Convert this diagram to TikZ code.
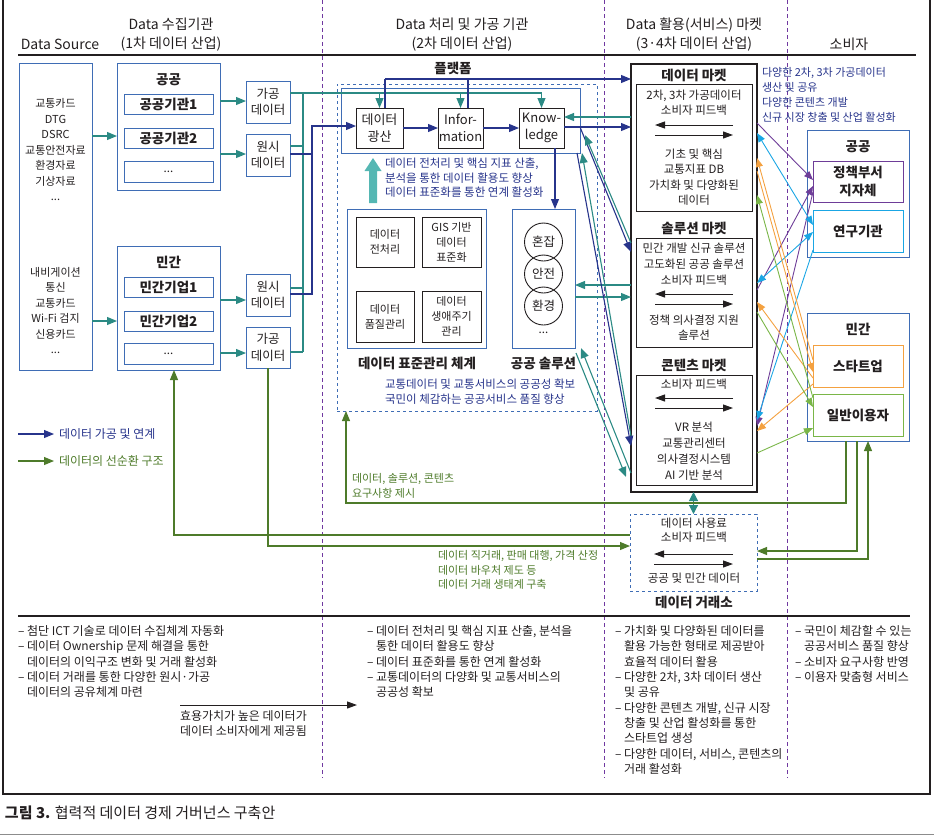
\documentclass[tikz,border=0pt]{standalone}
\usepackage{fontspec}
\setmainfont{Noto Sans CJK KR}
\usetikzlibrary{arrows.meta,calc}
\definecolor{navy}{HTML}{27348B}
\definecolor{tealc}{HTML}{2B8A84}
\definecolor{grn}{HTML}{4E7B2A}
\definecolor{boxblue}{HTML}{3F6DB5}
\definecolor{divp}{HTML}{7038A0}
\definecolor{bigteal}{HTML}{55B7B3}
\definecolor{cpur}{HTML}{6E3D98}
\definecolor{csky}{HTML}{1AA6E4}
\definecolor{corg}{HTML}{F4A140}
\definecolor{cgrn}{HTML}{7AB648}
\definecolor{ink}{HTML}{231F20}
\newcommand{\fshead}{\fontsize{14}{19}\selectfont}
\newcommand{\fsttl}{\fontsize{13.5}{18}\selectfont\bfseries}
\newcommand{\fsmain}{\fontsize{11.5}{15.5}\selectfont}
\newcommand{\fsdat}{\fontsize{12.5}{16.5}\selectfont}
\newcommand{\fssm}{\fontsize{11}{15.5}\selectfont}
\newcommand{\fssub}{\fontsize{11}{15}\selectfont}
\newcommand{\fsmid}{\fontsize{11.5}{14.5}\selectfont}
\newcommand{\fsbot}{\fontsize{12}{15.3}\selectfont}
\newcommand{\mybox}[7]{\node[#6, minimum width={(#4)-(#2)}, minimum height={(#5)-(#3)}] (#1) at ({((#2)+(#4))/2},{((#3)+(#5))/2}) {#7};}
\tikzset{
  bb/.style={draw=boxblue, line width=1pt, inner sep=0pt, outer sep=0pt, align=center, text=ink},
  kb/.style={draw=ink, line width=1pt, inner sep=0pt, outer sep=0pt, align=center, text=ink},
  tx/.style={inner sep=0pt, outer sep=0pt, align=center, text=ink},
  tarr/.style={draw=tealc, line width=1.1pt, -{Triangle[length=10pt,width=8pt]}},
  narr/.style={draw=navy, line width=1.1pt, -{Triangle[length=10pt,width=8pt]}},
  tln/.style={draw=tealc, line width=1.1pt},
  nln/.style={draw=navy, line width=1.1pt},
  garr/.style={draw=grn, line width=1.1pt, -{Triangle[length=10pt,width=8pt]}},
  gln/.style={draw=grn, line width=1.1pt},
  karr/.style={draw=ink, line width=1pt, -{Triangle[length=10pt,width=7pt]}},
  carr/.style={line width=0.9pt, -{Triangle[length=9pt,width=7pt]}},
  cdarr/.style={line width=0.9pt, {Triangle[length=9pt,width=7pt]}-{Triangle[length=9pt,width=7pt]}},
  divline/.style={draw=divp, line width=0.8pt, dash pattern=on 4pt off 3pt},
}
\begin{document}
\begin{tikzpicture}[x=1pt,y=-1pt]
\useasboundingbox (0,0) rectangle (934,838);
% frame and rules
\draw[line width=1.3pt, ink] (3,0) -- (3,794) -- (930,794) -- (930,0);
\foreach \xx in {322,604,787} \draw[divline] (\xx,0) -- (\xx,778);
\draw[line width=1.2pt, ink] (18,55) -- (916,55);
\draw[line width=1.2pt, ink] (18,616) -- (910,616);
\draw[line width=0.6pt, black!45] (0,834) -- (934,834);

% headers
\node[tx,font=\fshead] (hsrc) at (60,44) {Data Source};
\node[tx,font=\fshead] (hc1) at (171,34.5) {Data 수집기관\\(1차 데이터 산업)};
\node[tx,font=\fshead] (hc2) at (462,34.5) {Data 처리 및 가공 기관\\(2차 데이터 산업)};
\node[tx,font=\fshead] (hc3) at (694,34.5) {Data 활용(서비스) 마켓\\(3·4차 데이터 산업)};
\node[tx,font=\fshead] (hc4) at (849,44) {소비자};

% ---------- left columns ----------
\mybox{src}{19}{63}{92}{370}{bb}{}
\node[tx,font=\fssm] (srcA) at (55.5,150) {교통카드\\DTG\\DSRC\\교통안전자료\\환경자료\\기상자료\\...};
\node[tx,font=\fssm] (srcB) at (55.5,310.5) {내비게이션\\통신\\교통카드\\Wi-Fi 검지\\신용카드\\...};

\mybox{pub}{117}{63}{220}{190}{bb}{}
\node[tx,font=\fsttl] (pubt) at (168.5,80) {공공};
\mybox{pub1}{124}{94}{213}{114}{bb,font=\fsttl}{공공기관1}
\mybox{pub2}{124}{128}{213}{148}{bb,font=\fsttl}{공공기관2}
\mybox{pub3}{124}{161}{213}{182}{bb,font=\fsmain}{...}

\mybox{prv}{117}{246}{220}{370}{bb}{}
\node[tx,font=\fsttl] (prvt) at (168.5,262) {민간};
\mybox{prv1}{124}{277}{213}{297}{bb,font=\fsttl}{민간기업1}
\mybox{prv2}{124}{311}{213}{331}{bb,font=\fsttl}{민간기업2}
\mybox{prv3}{124}{343}{213}{364}{bb,font=\fsmain}{...}

\mybox{gA1}{246}{81}{290}{123}{bb,font=\fsdat}{가공\\데이터}
\mybox{wA1}{246}{134}{290}{176}{bb,font=\fsdat}{원시\\데이터}
\mybox{wB1}{246}{274}{290}{316}{bb,font=\fsdat}{원시\\데이터}
\mybox{gB1}{246}{327}{290}{368}{bb,font=\fsdat}{가공\\데이터}

\draw[tarr] (src.east |- 0,136) -- (pub.west |- 0,136);
\draw[tarr] (src.east |- 0,321) -- (prv.west |- 0,321);
\draw[tarr] (pub.east |- 0,101) -- (gA1.west |- 0,101);
\draw[tarr] (pub.east |- 0,154) -- (wA1.west |- 0,154);
\draw[tarr] (prv.east |- 0,300) -- (wB1.west |- 0,300);
\draw[tarr] (prv.east |- 0,353) -- (gB1.west |- 0,353);

% ---------- middle ----------
\node[tx,font=\fsttl] (platt) at (453,68) {플랫폼};
\mybox{platd}{337}{84}{597}{411}{bb,dashed}{}
\mybox{plat}{341}{88}{580}{153}{bb}{}
\mybox{dm}{356}{108}{403}{148}{kb,font={\fontsize{13}{16.5}\selectfont}}{데이터\\광산}
\mybox{inf}{438}{108}{483}{148}{kb,font={\fontsize{13}{16.5}\selectfont}}{Infor-\\mation}
\mybox{know}{519}{108}{564}{148}{kb,font={\fontsize{13}{16.5}\selectfont}}{Know-\\ledge}

% teal tree from data boxes
\draw[tln] (gA1.east |- 0,93) -- (know.north |- 0,93);
\draw[tln] (303,93) -- (303,352);
\draw[tln] (wA1.east |- 0,146) -- (303,146);
\draw[tln] (wB1.east |- 0,288) -- (303,288);
\draw[tln] (gB1.east |- 0,352) -- (303,352);
\draw[tarr] (dm.north |- 0,93) -- (dm.north);
\draw[tarr] (inf.north |- 0,93) -- (inf.north);
\draw[tarr] (know.north |- 0,93) -- (know.north);
% navy from raw data
\draw[nln] (wB1.east |- 0,294) -- (312,294) -- (312,154);
\draw[narr] (wA1.east |- 0,154) -- (312,154) -- (312,126) -- (dm.west |- 0,126);
\draw[narr] (dm) -- (inf);
\draw[narr] (inf) -- (know);

% market
\mybox{mk}{631}{64}{757}{492}{kb,line width=1.3pt}{}
\node[tx,font=\fsttl] (mkt1) at (694,75) {데이터 마켓};
\mybox{mk1}{636}{84}{752}{211}{kb}{}
\node[tx,font=\fsmain] (mk1a) at (694,102.5) {2차, 3차 가공데이터\\소비자 피드백};
\node[tx,font=\fsmain] (mk1b) at (694,177) {기초 및 핵심\\교통지표 DB\\가치화 및 다양화된\\데이터};
\node[tx,font=\fsttl] (mkt2) at (694,228) {솔루션 마켓};
\mybox{mk2}{636}{238}{752}{347}{kb}{}
\node[tx,font={\fontsize{11.5}{16}\selectfont}] (mk2a) at (694,264) {민간 개발 신규 솔루션\\고도화된 공공 솔루션\\소비자 피드백};
\node[tx,font=\fsmain] (mk2b) at (694,327.5) {정책 의사결정 지원\\솔루션};
\node[tx,font=\fsttl] (mkt3) at (694,365) {콘텐츠 마켓};
\mybox{mk3}{636}{375}{752}{485}{kb}{}
\node[tx,font=\fsmain] (mk3a) at (694,384) {소비자 피드백};
\node[tx,font={\fontsize{11.5}{16}\selectfont}] (mk3b) at (694,451) {VR 분석\\교통관리센터\\의사결정시스템\\AI 기반 분석};
\foreach \nm/\ya/\yb in {mk1/125/135, mk2/294/304, mk3/398/408}{
  \draw[karr] ([xshift=-19pt]\nm.east |- 0,\ya) -- ([xshift=19pt]\nm.west |- 0,\ya);
  \draw[karr] ([xshift=19pt]\nm.west |- 0,\yb) -- ([xshift=-19pt]\nm.east |- 0,\yb);
}

% navy to market
\draw[nln] ([xshift=5.5pt]dm.north) -- ([xshift=5.5pt]dm.north |- 0,79);
\draw[nln] ([xshift=7.5pt]inf.north) -- ([xshift=7.5pt]inf.north |- 0,79);
\draw[narr] ([xshift=5.5pt]dm.north |- 0,79) -- (mk.west |- 0,79);
\draw[narr] (know.east |- 0,127) -- (mk.west |- 0,127);
\draw[tarr] (mk.west |- 0,117) -- (know.east |- 0,117);

% big teal arrow + text
\fill[bigteal] (369,203) -- (369,171) -- (364.5,171) -- (373,158) -- (381.5,171) -- (377,171) -- (377,203) -- cycle;
\node[tx,anchor=west,align=left,text=navy,font=\fsmid] (midtx1) at (385,178) {데이터 전처리 및 핵심 지표 산출,\\분석을 통한 데이터 활용도 향상\\데이터 표준화를 통한 연계 활성화};

% standard system
\mybox{std}{347}{209}{486}{348}{bb}{}
\mybox{s1}{356}{217}{414}{267}{kb,font=\fssub}{데이터\\전처리}
\mybox{s2}{422}{217}{481}{267}{kb,font=\fssub}{GIS 기반\\데이터\\표준화}
\mybox{s3}{356}{291}{414}{342}{kb,font=\fssub}{데이터\\품질관리}
\mybox{s4}{422}{291}{481}{342}{kb,font=\fssub}{데이터\\생애주기\\관리}
\node[tx,font=\fsttl] (stdt) at (417,363) {데이터 표준관리 체계};

% public solution
\mybox{sol}{512}{209}{575}{348}{bb}{}
\node[draw=ink,line width=0.9pt,circle,minimum size=38pt,inner sep=0pt,font=\fsdat,text=ink] (c1) at (543.5,242) {혼잡};
\node[draw=ink,line width=0.9pt,circle,minimum size=38pt,inner sep=0pt,font=\fsdat,text=ink] (c2) at (543.5,274) {안전};
\node[draw=ink,line width=0.9pt,circle,minimum size=38pt,inner sep=0pt,font=\fsdat,text=ink] (c3) at (543.5,306) {환경};
\node[tx,font=\fsmain] (cdots) at (543.5,333) {...};
\node[tx,font=\fsttl] (solt) at (543.5,363) {공공 솔루션};
\node[tx,anchor=west,align=left,text=navy,font=\fsmid] (midtx2) at (385,391.5) {교통데이터 및 교통서비스의 공공성 확보\\국민이 체감하는 공공서비스 품질 향상};

\draw[narr] ([xshift=13.5pt]know.south) -- ([xshift=11.5pt]sol.north);
\draw[tarr] (mk.west |- 0,285) -- (sol.east |- 0,285);
\draw[tarr] (sol.east |- 0,297) -- (mk.west |- 0,297);

% diagonals platform <-> markets
\draw[narr] (plat.east |- 0,127) -- (mk.west |- 0,252);
\draw[tarr] (mk.west |- 0,243) -- ([xshift=5pt]plat.east |- 0,135);
\draw[narr] ([xshift=-3pt]plat.south east) -- (mk.west |- 0,446);
\draw[tarr] (mk.west |- 0,436) -- ([xshift=2pt]plat.south east);
\draw[tarr] (mk.west |- 0,473) -- ([xshift=6pt]sol.south east);
\draw[tarr] ([xshift=1pt,yshift=-5pt]sol.south east) -- ([xshift=-5pt]mk.west |- 0,477);

% exchange
\mybox{exch}{630}{514}{757}{591}{bb,dashed}{}
\node[tx,font={\fontsize{11.5}{14}\selectfont}] (exa) at (694,530.5) {데이터 사용료\\소비자 피드백};
\draw[karr] ([xshift=-24pt]exch.east |- 0,554) -- ([xshift=24pt]exch.west |- 0,554);
\draw[karr] ([xshift=24pt]exch.west |- 0,564) -- ([xshift=-24pt]exch.east |- 0,564);
\node[tx,font={\fontsize{11.5}{14}\selectfont}] (exb) at (694,578) {공공 및 민간 데이터};
\node[tx,font=\fsttl] (exct) at (694,602) {데이터 거래소};
\draw[draw=tealc, line width=1.1pt, {Triangle[length=9pt,width=9pt]}-{Triangle[length=9pt,width=9pt]}] (mk.south -| exch.north) -- (exch.north);

% ---------- consumers ----------
\node[tx,anchor=west,align=left,text=navy,font={\fontsize{11}{15}\selectfont}] (ctx) at (762,94.5) {다양한 2차, 3차 가공데이터\\생산 및 공유\\다양한 콘텐츠 개발\\신규 시장 창출 및 산업 활성화};
\mybox{cpub}{807}{130}{909}{257}{bb}{}
\node[tx,font=\fsttl] (cpubt) at (858,147) {공공};
\mybox{cpol}{813}{161}{903}{202}{kb,draw=cpur,font=\fsttl}{정책부서\\지자체}
\mybox{cres}{813}{210}{903}{252}{kb,draw=csky,font=\fsttl}{연구기관}
\mybox{cprv}{807}{313}{909}{441}{bb}{}
\node[tx,font=\fsttl] (cprvt) at (858,329) {민간};
\mybox{cst}{813}{345}{903}{387}{kb,draw=corg,font=\fsttl}{스타트업}
\mybox{cusr}{813}{394}{903}{436}{kb,draw=cgrn,font=\fsttl}{일반이용자}

% colored arrows
\draw[carr,cpur] (mk.east |- 0,123) -- (cpol.west |- 0,180);
\draw[carr,cpur] (mk.east |- 0,290) -- (cpol.west |- 0,186);
\draw[carr,cpur] (cpol.west |- 0,192) -- (mk.east |- 0,426);
\draw[cdarr,csky] (mk.east |- 0,133) -- (cres.west |- 0,225);
\draw[cdarr,csky] (cres.west |- 0,232) -- (mk.east |- 0,283);
\draw[carr,csky] (cres.west |- 0,250) -- (mk.east |- 0,420);
\draw[carr,corg] (cst.west |- 0,360) -- (mk.east |- 0,158);
\draw[carr,corg] (mk.east |- 0,171) -- (cst.west |- 0,372);
\draw[carr,corg] (cst.west |- 0,378) -- (mk.east |- 0,302);
\draw[carr,corg] (cst.west |- 0,384) -- (mk.east |- 0,431);
\draw[carr,cgrn] (cusr.west |- 0,398) -- (mk.east |- 0,195);
\draw[carr,cgrn] (mk.east |- 0,312) -- (cusr.west |- 0,407);
\draw[carr,cgrn] (mk.east |- 0,453) -- (cusr.west |- 0,428);

% ---------- green cycle ----------
\draw[garr] (exch.west |- 0,535) -| ([xshift=5.5pt]prv.south);
\draw[garr] (gB1.south) |- (exch.west |- 0,546);
\coordinate (gturn) at (346,503);
\draw[garr] ([xshift=-12pt]cprv.south) |- (gturn) -- (gturn |- platd.south);
\draw[garr] ([xshift=-1pt]cprv.south) |- (exch.east |- 0,551);
\draw[garr] (exch.east |- 0,559) -| ([xshift=10pt]cprv.south);
\node[tx,anchor=west,align=left,text=grn,font={\fontsize{11}{15.5}\selectfont}] (gtx1) at (352,486) {데이터, 솔루션, 콘텐츠\\요구사항 제시};
\node[tx,anchor=west,align=left,text=grn,font={\fontsize{11}{14.5}\selectfont}] (gtx2) at (438,570) {데이터 직거래, 판매 대행, 가격 산정\\데이터 바우처 제도 등\\데이터 거래 생태계 구축};

% legend
\coordinate (lg1a) at (18,434); \coordinate (lg1b) at (54,434);
\coordinate (lg2a) at (18,461); \coordinate (lg2b) at (54,461);
\draw[narr] (lg1a) -- (lg1b);
\draw[garr] (lg2a) -- (lg2b);
\node[tx,anchor=west,text=navy,font={\fontsize{12}{14}\selectfont}] (lg1t) at (59,434) {데이터 가공 및 연계};
\node[tx,anchor=west,text=grn,font={\fontsize{12}{14}\selectfont}] (lg2t) at (59,461) {데이터의 선순환 구조};

% ---------- bottom texts ----------
\node[tx,anchor=west,align=left,font=\fsbot] (b1) at (18,661.5) {– 첨단 ICT 기술로 데이터 수집체계 자동화\\– 데이터 Ownership 문제 해결을 통한\\\phantom{– }데이터의 이익구조 변화 및 거래 활성화\\– 데이터 거래를 통한 다양한 원시·가공\\\phantom{– }데이터의 공유체계 마련};
\node[tx,anchor=west,align=left,font=\fsbot] (b2) at (367,661.5) {– 데이터 전처리 및 핵심 지표 산출, 분석을\\\phantom{– }통한 데이터 활용도 향상\\– 데이터 표준화를 통한 연계 활성화\\– 교통데이터의 다양화 및 교통서비스의\\\phantom{– }공공성 확보};
\node[tx,anchor=west,align=left,font=\fsbot] (b3) at (615,700) {– 가치화 및 다양화된 데이터를\\\phantom{– }활용 가능한 형태로 제공받아\\\phantom{– }효율적 데이터 활용\\– 다양한 2차, 3차 데이터 생산\\\phantom{– }및 공유\\– 다양한 콘텐츠 개발, 신규 시장\\\phantom{– }창출 및 산업 활성화를 통한\\\phantom{– }스타트업 생성\\– 다양한 데이터, 서비스, 콘텐츠의\\\phantom{– }거래 활성화};
\node[tx,anchor=west,align=left,font=\fsbot] (b4) at (795,654) {– 국민이 체감할 수 있는\\\phantom{– }공공서비스 품질 향상\\– 소비자 요구사항 반영\\– 이용자 맞춤형 서비스};
\coordinate (ba1) at (180,705); \coordinate (ba2) at (357,705);
\draw[karr] (ba1) -- (ba2);
\node[tx,anchor=west,align=left,font=\fsbot] (batx) at (180,723.5) {효용가치가 높은 데이터가\\데이터 소비자에게 제공됨};

% caption
\node[tx,anchor=west,font={\fontsize{15}{18}\selectfont}] (cap) at (5,813) {\textbf{그림 3.} 협력적 데이터 경제 거버넌스 구축안};
\end{tikzpicture}
\end{document}
